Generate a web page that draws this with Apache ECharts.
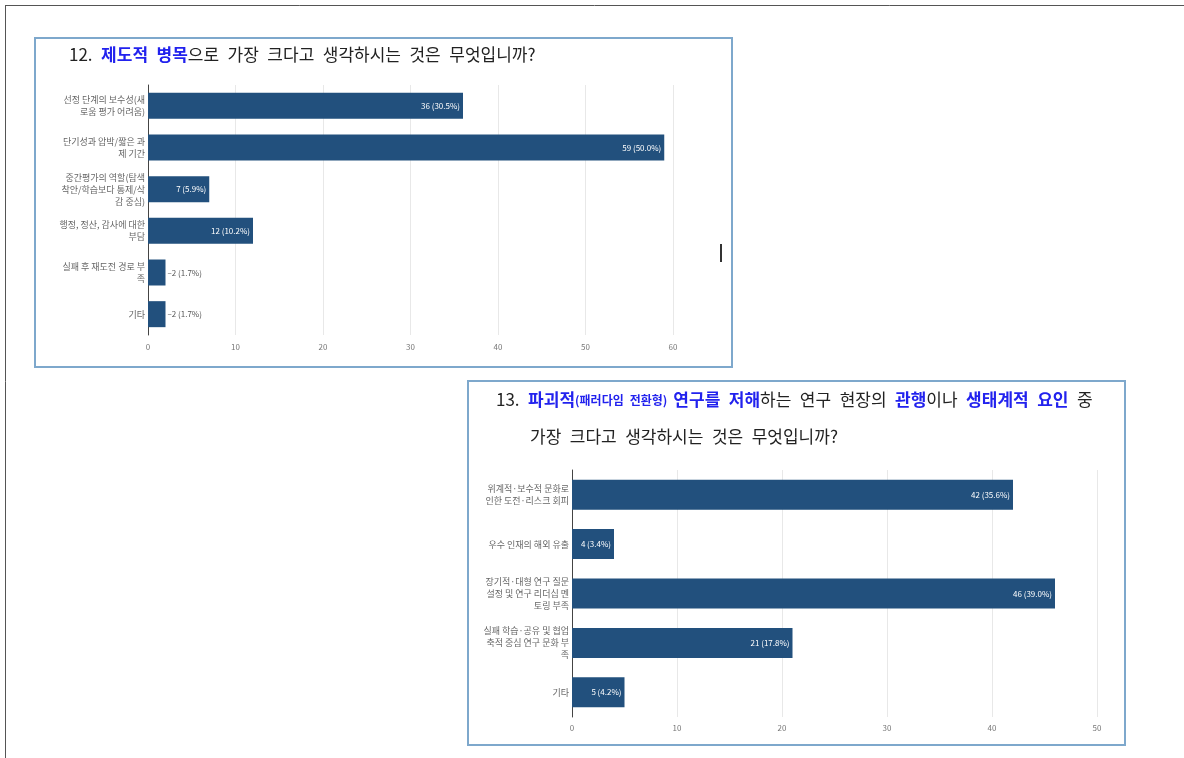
<!DOCTYPE html>
<html><head><meta charset="utf-8">
<script src="https://cdn.jsdelivr.net/npm/echarts@6/dist/echarts.min.js"></script>
<style>html,body{margin:0;padding:0;background:#fff}#c{width:1184px;height:758px}</style>
</head><body><div id="c"></div>
<script>
const cats1 = ['선정 단계의 보수성(새\n로움 평가 어려움)', '단기성과 압박/짧은 과\n제 기간', '중간평가의 역할(탐색\n착안/학습보다 통제/삭\n감 중심)', '행정, 정산, 감사에 대한\n부담', '실패 후 재도전 경로 부\n족', '기타'];
const vals1 = [36, 59, 7, 12, 2, 2];
const ticks1 = [0, 10, 20, 30, 40, 50, 60];
const cats2 = ['위계적·보수적 문화로\n인한 도전·리스크 회피', '우수 인재의 해외 유출', '장기적·대형 연구 질문\n설정 및 연구 리더십 멘\n토링 부족', '실패 학습·공유 및 협업\n축적 중심 연구 문화 부\n족', '기타'];
const vals2 = [42, 4, 46, 21, 5];
const ticks2 = [0, 10, 20, 30, 40, 50];

const FONT = '"Noto Sans CJK KR", "Noto Sans", sans-serif';
const BAR = '#22507d';
const SP = '\u2002';
function pctLabel(vals) {
  const total = vals.reduce((a, b) => a + b, 0);
  return p => {
    const pct = (p.value / total * 100).toFixed(1);
    return (p.value <= 2 ? '–' : '') + p.value + ' (' + pct + '%)';
  };
}
function seriesData(vals) {
  return vals.map(v => v <= 2 ? {value: v, label: {position: 'right', color: '#555', distance: 2}} : v);
}
function sp(s) { return s.replace(/ /g, SP); }
const chart = echarts.init(document.getElementById('c'), null, {renderer: 'canvas'});
const axisLabelStyle = {color: '#777', fontSize: 8, fontFamily: FONT};
const catLabel = {color: '#666', fontSize: 9, lineHeight: 12, fontFamily: FONT, margin: 3, align: 'right'};
chart.setOption({
  animation: false,
  grid: [
    {left: 148, top: 85, width: 525, height: 250},
    {left: 572, top: 470, width: 525, height: 247}
  ],
  xAxis: [
    {gridIndex: 0, type: 'value', min: ticks1[0], max: ticks1[ticks1.length - 1], interval: 10,
     axisLine: {show: false}, axisTick: {show: false},
     splitLine: {lineStyle: {color: '#e8e8e8'}}, axisLabel: Object.assign({margin: 8}, axisLabelStyle)},
    {gridIndex: 1, type: 'value', min: ticks2[0], max: ticks2[ticks2.length - 1], interval: 10,
     axisLine: {show: false}, axisTick: {show: false},
     splitLine: {lineStyle: {color: '#e8e8e8'}}, axisLabel: Object.assign({margin: 7}, axisLabelStyle)}
  ],
  yAxis: [
    {gridIndex: 0, type: 'category', data: cats1, inverse: true,
     axisLine: {lineStyle: {color: '#444', width: 1}}, axisTick: {show: false}, axisLabel: catLabel},
    {gridIndex: 1, type: 'category', data: cats2, inverse: true,
     axisLine: {lineStyle: {color: '#444', width: 1}}, axisTick: {show: false}, axisLabel: catLabel}
  ],
  series: [
    {type: 'bar', xAxisIndex: 0, yAxisIndex: 0, data: seriesData(vals1), barWidth: 26,
     itemStyle: {color: BAR},
     label: {show: true, position: 'insideRight', color: '#fff', fontSize: 8, fontFamily: FONT, distance: 3, formatter: pctLabel(vals1)}},
    {type: 'bar', xAxisIndex: 1, yAxisIndex: 1, data: seriesData(vals2), barWidth: 30,
     itemStyle: {color: BAR},
     label: {show: true, position: 'insideRight', color: '#fff', fontSize: 8, fontFamily: FONT, distance: 3, formatter: pctLabel(vals2)}}
  ],
  graphic: [
    {type: 'line', shape: {x1: 5, y1: 5.5, x2: 1184, y2: 5.5}, style: {stroke: '#555', lineWidth: 1}},
    {type: 'line', shape: {x1: 5.5, y1: 5, x2: 5.5, y2: 758}, style: {stroke: '#555', lineWidth: 1}},
    {type: 'rect', shape: {x: 35, y: 38, width: 697, height: 329}, style: {fill: 'none', stroke: '#7ea8cc', lineWidth: 2}},
    {type: 'rect', shape: {x: 468, y: 381, width: 657, height: 364}, style: {fill: 'none', stroke: '#7ea8cc', lineWidth: 2}},
    {type: 'rect', shape: {x: 720, y: 244, width: 2, height: 18}, style: {fill: '#333'}},
    {type: 'text', x: 69, y: 55, style: {
      text: '{n|' + sp('12. ') + '}{b|' + sp('제도적 병목') + '}{n|' + sp('으로 가장 크다고 생각하시는 것은 무엇입니까?') + '}',
      verticalAlign: 'middle',
      rich: {
        n: {fontSize: 17, fontFamily: FONT, fill: '#222'},
        b: {fontSize: 17, fontFamily: FONT, fill: '#2222ee', fontWeight: 'bold'}
      }}},
    {type: 'text', x: 496, y: 400, style: {
      text: '{n|' + sp('13. ') + '}{b|파괴적}{s|' + sp('(패러다임 전환형) ') + '}{b|' + sp('연구를 저해') + '}{n|' + sp('하는 연구 현장의 ') + '}{b|관행}{n|' + sp('이나 ') + '}{b|' + sp('생태계적 요인') + '}{n|' + sp(' 중') + '}',
      verticalAlign: 'middle',
      rich: {
        n: {fontSize: 17, fontFamily: FONT, fill: '#222'},
        b: {fontSize: 17, fontFamily: FONT, fill: '#2222ee', fontWeight: 'bold'},
        s: {fontSize: 12, fontFamily: FONT, fill: '#2222ee', fontWeight: 'bold'}
      }}},
    {type: 'text', x: 530, y: 437, style: {
      text: sp('가장 크다고 생각하시는 것은 무엇입니까?'),
      verticalAlign: 'middle', fontSize: 17, fontFamily: FONT, fill: '#222'}}
  ]
});
</script>
</body></html>
